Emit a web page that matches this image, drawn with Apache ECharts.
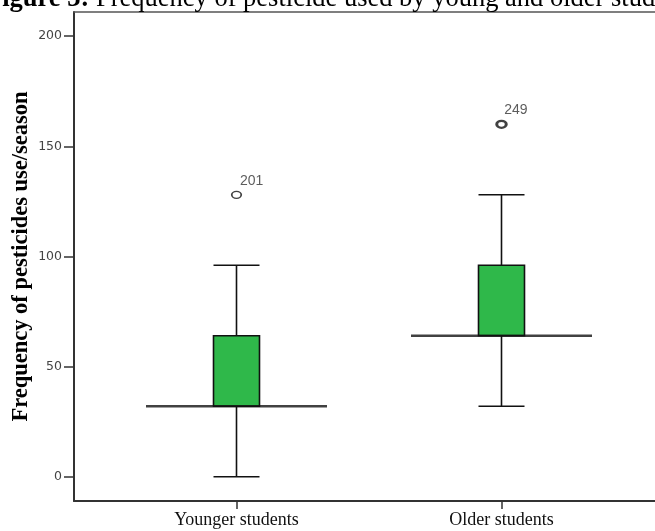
<!DOCTYPE html>
<html>
<head>
<meta charset="utf-8">
<script src="https://cdn.jsdelivr.net/npm/echarts@6/dist/echarts.min.js"></script>
<style>
html,body{margin:0;padding:0;background:#fff;}
#chart{width:655px;height:531px;}
</style>
</head>
<body>
<div id="chart"></div>
<script>
// ---- data ----
const categories = ['Younger students', 'Older students'];
const whiskerLow = [0, 32];
const q1 = [32, 64];
const median = [32, 64];
const q3 = [64, 96];
const whiskerHigh = [96, 128];
const outlierValues = [128, 160];
const outlierIds = ['201', '249'];
const yTicks = [0, 50, 100, 150, 200];

const boxData = categories.map((c, i) => [whiskerLow[i], q1[i], median[i], q3[i], whiskerHigh[i]]);
const medianData = categories.map((c, i) => [c, median[i]]);
const outlierData = categories.map((c, i) => ({
  value: [c, outlierValues[i]],
  id: outlierIds[i],
  itemStyle: { borderWidth: i === 1 ? 2.6 : 1.5 }
}));

const chart = echarts.init(document.getElementById('chart'), null, { renderer: 'canvas' });
const yMin = -11, yMax = 211;
chart.setOption({
  animation: false,
  backgroundColor: '#fff',
  title: {
    text: '{b|Figure 3:} Frequency of pesticide used by young and older students',
    left: -19,
    top: -19,
    textStyle: {
      fontFamily: 'Liberation Serif',
      fontSize: 26.5,
      fontWeight: 'normal',
      color: '#000',
      rich: { b: { fontFamily: 'Liberation Serif', fontSize: 26.5, fontWeight: 'bold', color: '#000' } }
    }
  },
  grid: [
    { left: 74, right: 0, top: 12, bottom: 30, containLabel: false, outerBoundsMode: 'none' },
    { left: 104, right: 21, top: 12, bottom: 30, containLabel: false, outerBoundsMode: 'none' }
  ],
  xAxis: [
    { type: 'value', gridIndex: 0, min: 0, max: 1, position: 'bottom',
      axisLine: { show: true, onZero: false, lineStyle: { color: '#333', width: 2 } },
      axisTick: { show: false }, axisLabel: { show: false }, splitLine: { show: false } },
    { type: 'value', gridIndex: 0, min: 0, max: 1, position: 'top',
      axisLine: { show: true, onZero: false, lineStyle: { color: '#555', width: 1.5 } },
      axisTick: { show: false }, axisLabel: { show: false }, splitLine: { show: false } },
    { type: 'category', gridIndex: 1, data: categories, boundaryGap: true,
      axisLine: { show: false, onZero: false },
      axisTick: { show: true, alignWithLabel: true, length: 8, lineStyle: { color: '#333', width: 1.5 } },
      axisLabel: { fontFamily: 'Liberation Serif', fontSize: 18, color: '#111', margin: 10 },
      splitLine: { show: false } }
  ],
  yAxis: [
    { type: 'value', gridIndex: 0, min: yMin, max: yMax,
      name: 'Frequency of pesticides use/season',
      nameLocation: 'middle', nameGap: 41, nameMoveOverlap: false,
      nameTextStyle: { fontFamily: 'Liberation Serif', fontSize: 22.5, fontWeight: 'bold', color: '#000' },
      axisLine: { show: true, onZero: false, lineStyle: { color: '#333', width: 2 } },
      axisTick: { show: true, length: 10, customValues: yTicks, lineStyle: { color: '#333', width: 1.5 } },
      axisLabel: { show: true, customValues: yTicks, fontFamily: 'DejaVu Sans', fontSize: 12.5, color: '#444', margin: 12 },
      splitLine: { show: false } },
    { type: 'value', gridIndex: 1, min: yMin, max: yMax, show: false, splitLine: { show: false } }
  ],
  series: [
    { type: 'boxplot', xAxisIndex: 2, yAxisIndex: 1, data: boxData,
      boxWidth: [46, 46],
      itemStyle: { color: '#2fb84a', borderColor: '#111', borderWidth: 1.6 },
      z: 2 },
    { type: 'scatter', xAxisIndex: 2, yAxisIndex: 1, data: medianData,
      symbol: 'rect', symbolSize: [181, 2.6],
      itemStyle: { color: '#111' }, z: 3, silent: true },
    { type: 'scatter', xAxisIndex: 2, yAxisIndex: 1, data: outlierData,
      symbol: 'circle', symbolSize: [9.5, 7],
      itemStyle: { color: '#fff', borderColor: '#111', borderWidth: 1.5 },
      label: { show: true, position: [9, -17], formatter: p => p.data.id,
        fontFamily: 'Liberation Sans', fontSize: 14, color: '#333' },
      z: 4 }
  ]
});
</script>
</body>
</html>
